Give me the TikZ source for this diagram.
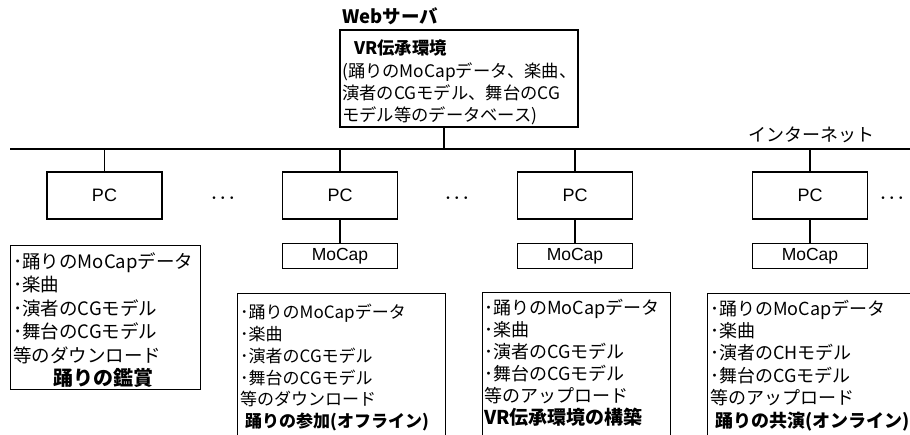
\documentclass[tikz,border=0pt]{standalone}
\usepackage{fontspec}
\setmainfont{Noto Sans CJK JP}
\newfontfamily\arialfont{Liberation Sans}
\begin{document}
\begin{tikzpicture}[x=1pt,y=-1pt,
  pcbox/.style={draw,line width=1.6pt,minimum width=115pt,minimum height=47pt,inner sep=0pt,font=\arialfont\fontsize{18}{20}\selectfont},
  mocapbox/.style={draw,line width=1pt,minimum width=115pt,minimum height=25pt,inner sep=0pt,font=\arialfont\fontsize{17.5}{19}\selectfont},
  listbox/.style={draw,line width=1pt,anchor=north west,inner sep=0pt},
  listtext/.style={anchor=north west,inner sep=0pt,align=left},
  link/.style={line width=1.5pt},
  dotsnode/.style={inner sep=0pt,font=\boldmath\fontsize{18}{20}\selectfont}]
\path[use as bounding box] (0,0) rectangle (910,435);
\clip (0,0) rectangle (910,435);
% server
\node[draw,line width=1.6pt,anchor=north west,minimum width=238pt,minimum height=97pt,inner sep=0pt] (server) at (339,29) {};
\node[anchor=west,inner sep=0pt,font=\bfseries\fontsize{18.5}{20}\selectfont] (weblabel) at (342,16) {Webサーバ};
\node[listtext,font=\fontsize{17.3}{22.3}\selectfont] (servertext) at (342,40) {\hspace*{12pt}\textbf{VR伝承環境}\\(踊りのMoCapデータ、楽曲、\\演者のCGモデル、舞台のCG\\モデル等のデータベース)};
% internet
\coordinate (inL) at (10,149);
\coordinate (inR) at (910,149);
\draw[line width=1.8pt] (inL) -- (inR);
\node[inner sep=0pt,font=\fontsize{18}{20}\selectfont] (inet) at (811,135) {インターネット};
\coordinate (tap) at (444,149);
\draw[link] (tap) -- (tap |- server.south);
% PCs
\node[pcbox] (pc1) at (104.5,195.5) {PC};
\node[pcbox] (pc2) at (340,195.5) {PC};
\node[pcbox] (pc3) at (575,195.5) {PC};
\node[pcbox] (pc4) at (810,195.5) {PC};
\foreach \p in {pc1,pc2,pc3,pc4} {\draw[link] (\p.north) -- (\p.north |- inL);}
% MoCap
\node[mocapbox] (mc2) at (340,256.5) {MoCap};
\node[mocapbox] (mc3) at (575,256.5) {MoCap};
\node[mocapbox] (mc4) at (810,256.5) {MoCap};
\draw[link] (pc2.south) -- (mc2.north);
\draw[link] (pc3.south) -- (mc3.north);
\draw[link] (pc4.south) -- (mc4.north);
% dots
\node[dotsnode] (d1) at (223,198) {$\cdots$};
\node[dotsnode] (d2) at (457,198) {$\cdots$};
\node[dotsnode] (d3) at (892,198) {$\cdots$};
% list boxes
\node[listbox,minimum width=190pt,minimum height=144pt] (box1) at (10,245) {};
\node[listtext,font=\fontsize{18.5}{23.4}\selectfont] (text1) at (13,252.5) {･踊りのMoCapデータ\\･楽曲\\･演者のCGモデル\\･舞台のCGモデル\\等のダウンロード\\\hspace*{40pt}\textbf{\fontsize{20}{23.4}\selectfont 踊りの鑑賞}};
\node[listbox,minimum width=208pt,minimum height=200pt] (box2) at (237,293) {};
\node[listtext,font=\fontsize{17}{21.8}\selectfont] (text2) at (240,304) {･踊りのMoCapデータ\\･楽曲\\･演者のCGモデル\\･舞台のCGモデル\\等のダウンロード\\\hspace*{5pt}\textbf{踊りの参加(オフライン)}};
\node[listbox,minimum width=188pt,minimum height=200pt] (box3) at (482,292) {};
\node[listtext,font=\fontsize{18}{22}\selectfont] (text3) at (484,298.5) {･踊りのMoCapデータ\\･楽曲\\･演者のCGモデル\\･舞台のCGモデル\\等のアップロード\\\textbf{\fontsize{19}{22}\selectfont VR伝承環境の構築}};
\node[listbox,minimum width=250pt,minimum height=200pt] (box4) at (707,293) {};
\node[listtext,font=\fontsize{18}{22.4}\selectfont] (text4) at (710,299.5) {･踊りのMoCapデータ\\･楽曲\\･演者のCHモデル\\･舞台のCGモデル\\等のアップロード\\\hspace*{5pt}\textbf{踊りの共演(オンライン)}};
\end{tikzpicture}
\end{document}
